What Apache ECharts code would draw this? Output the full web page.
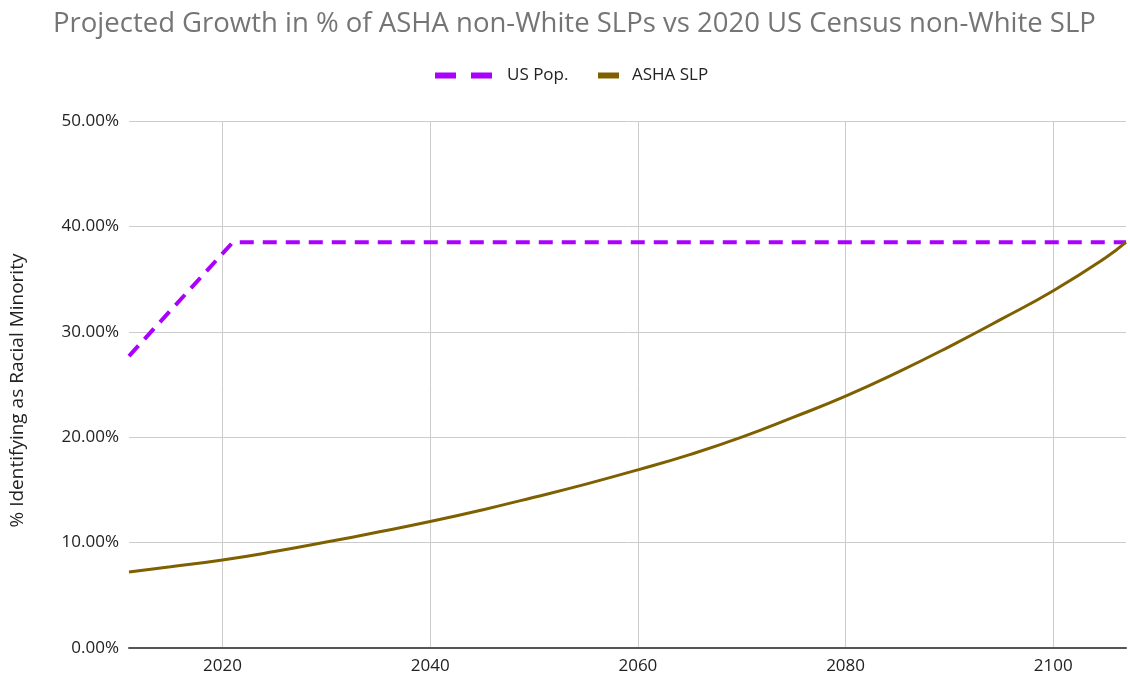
<!DOCTYPE html>
<html>
<head>
<meta charset="utf-8">
<title>Projected Growth in % of ASHA non-White SLPs</title>
<script src="https://cdn.jsdelivr.net/npm/echarts@6/dist/echarts.min.js"></script>
<style>
    html, body { margin: 0; padding: 0; background: #ffffff; }
    #chart { width: 1130px; height: 678px; }
</style>
</head>
<body>
<div id="chart"></div>
<script>
// Values (percent).
const us_pop_years = [2011, 2021, 2107];
const us_pop_values = [27.7, 38.5, 38.5];

const asha_years = [2011, 2015, 2020, 2025, 2030, 2035, 2040, 2045, 2050, 2055, 2060,
    2065, 2070, 2075, 2080, 2085, 2090, 2095, 2100, 2105, 2107];
const asha_values = [7.2, 7.7, 8.35, 9.15, 10.05, 11.0, 12.0, 13.1, 14.3, 15.55, 16.9,
    18.35, 20.0, 21.9, 23.9, 26.15, 28.6, 31.2, 33.9, 37.0, 38.5];

const x_tick_years = [2020, 2040, 2060, 2080, 2100];

const FONT = '"Open Sans", "Noto Sans", sans-serif';
const US_POP_COLOR = '#aa00ff';
const ASHA_COLOR = '#7f6000';

function pairs(xs, ys) {
    return xs.map(function (x, i) { return [x, ys[i]]; });
}

let chart = echarts.init(document.getElementById('chart'));

chart.setOption({
    backgroundColor: '#ffffff',
    animation: false,
    title: {
        text: 'Projected Growth in % of ASHA non-White SLPs vs 2020 US Census non-White SLP',
        left: 48,
        top: 5,
        textStyle: {
            fontFamily: FONT,
            fontSize: 27.5,
            fontWeight: 'normal',
            color: '#757575'
        }
    },
    legend: [
        {
            data: [{ name: 'US Pop.', icon: 'path://M0,0H21V6H0Z M36,0H57V6H36Z' }],
            left: 435,
            top: 67,
            padding: 0,
            itemWidth: 57,
            itemHeight: 6,
            textStyle: { fontFamily: FONT, fontSize: 17, color: '#222222', padding: [0, 0, 0, 10] }
        },
        {
            data: [{ name: 'ASHA SLP', icon: 'rect' }],
            left: 598,
            top: 67,
            padding: 0,
            itemWidth: 21,
            itemHeight: 6,
            textStyle: { fontFamily: FONT, fontSize: 17, color: '#222222', padding: [0, 0, 0, 8] }
        }
    ],
    grid: {
        left: 127,
        right: 4,
        top: 121,
        bottom: 30
    },
    xAxis: {
        type: 'value',
        min: 2011,
        max: 2107,
        axisLine: { show: true, onZero: false, lineStyle: { color: '#555555', width: 2 } },
        axisTick: { show: false, customValues: x_tick_years },
        axisLabel: {
            customValues: x_tick_years,
            fontFamily: FONT,
            fontSize: 17,
            color: '#222222',
            margin: 10,
            formatter: function (v) { return String(v); }
        },
        splitLine: { show: true, lineStyle: { color: '#cccccc', width: 1 } }
    },
    yAxis: {
        type: 'value',
        min: 0,
        max: 50,
        interval: 10,
        name: '% Identifying as Racial Minority',
        nameLocation: 'middle',
        nameGap: 102,
        nameTextStyle: { fontFamily: FONT, fontSize: 19, color: '#222222', padding: [0, 12, 0, 0] },
        axisLine: { show: false },
        axisTick: { show: false },
        axisLabel: {
            fontFamily: FONT,
            fontSize: 17,
            color: '#222222',
            margin: 10,
            formatter: function (v) { return v.toFixed(2) + '%'; }
        },
        splitLine: { show: true, lineStyle: { color: '#cccccc', width: 1 } }
    },
    series: [
        {
            name: 'US Pop.',
            type: 'line',
            data: pairs(us_pop_years, us_pop_values),
            showSymbol: false,
            symbol: 'none',
            itemStyle: { color: US_POP_COLOR },
            lineStyle: { color: US_POP_COLOR, width: 4, type: [14, 9] },
            z: 3
        },
        {
            name: 'ASHA SLP',
            type: 'line',
            data: pairs(asha_years, asha_values),
            smooth: 0.5,
            showSymbol: false,
            symbol: 'none',
            itemStyle: { color: ASHA_COLOR },
            lineStyle: { color: ASHA_COLOR, width: 3 },
            z: 4
        }
    ]
});

window.addEventListener('resize', function () {
    chart.resize();
});
</script>
</body>
</html>
